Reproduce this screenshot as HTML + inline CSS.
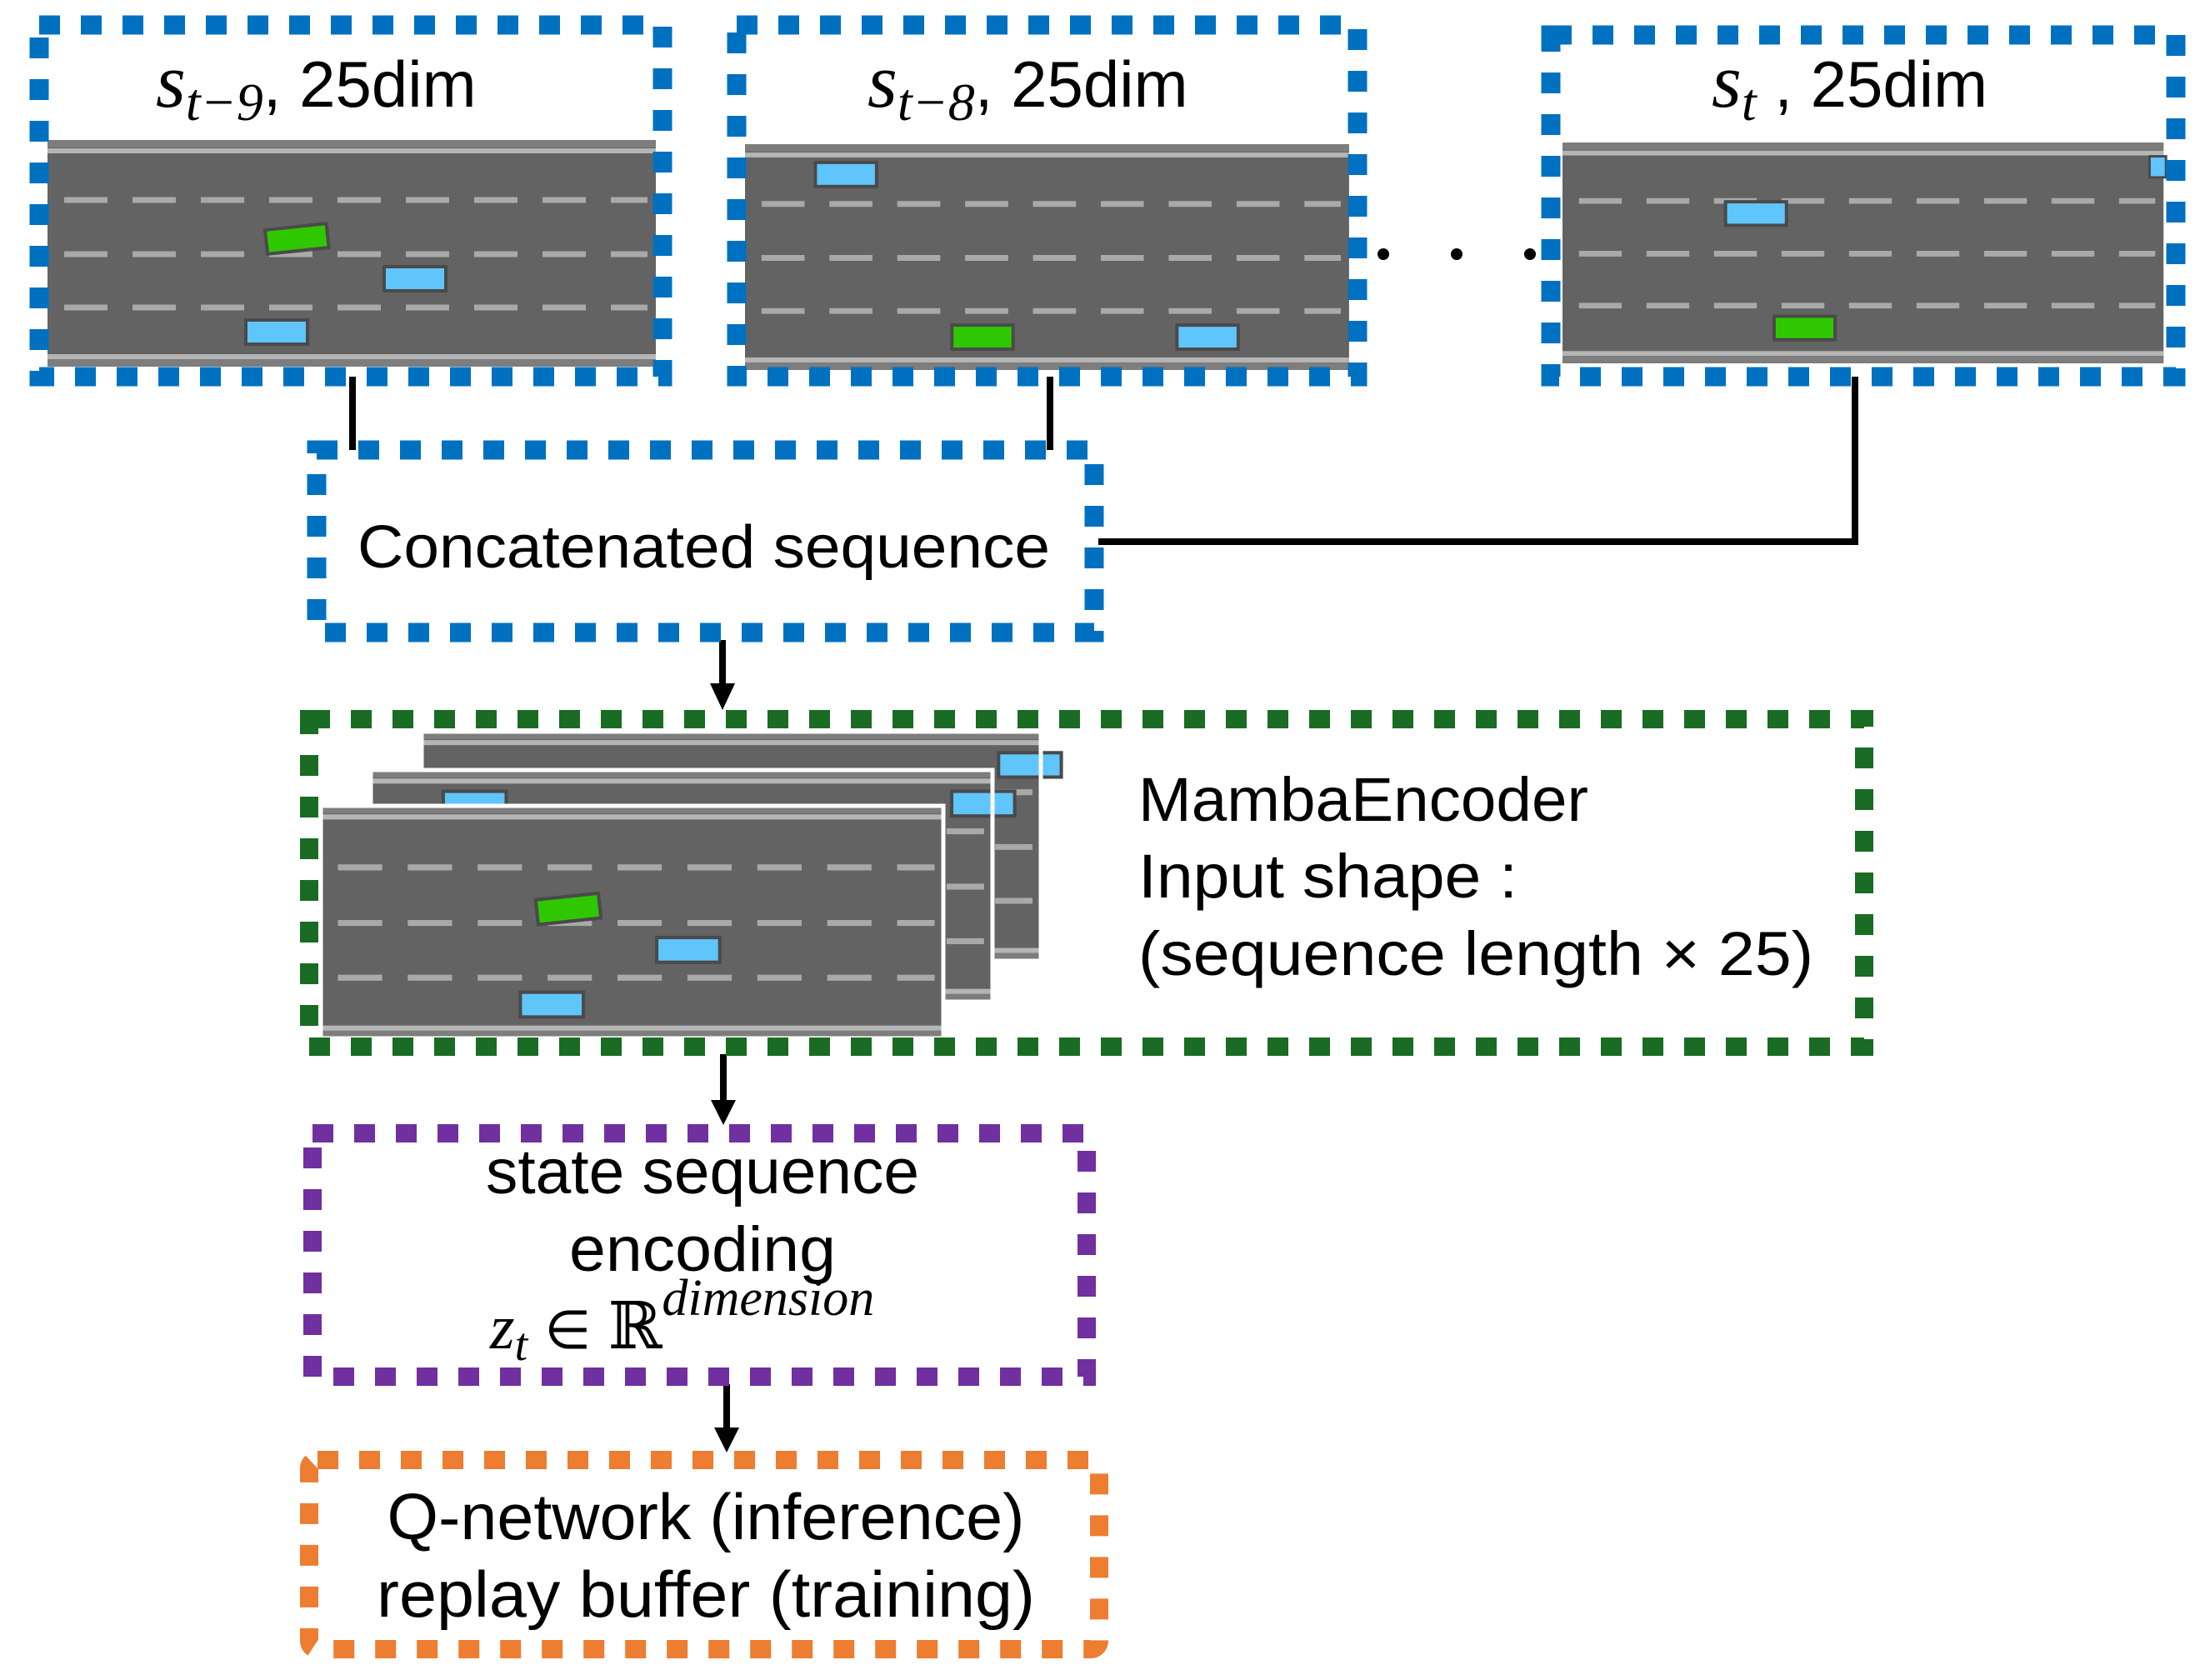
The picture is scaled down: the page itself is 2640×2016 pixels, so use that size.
<!DOCTYPE html>
<html><head><meta charset="utf-8"><style>
html,body{margin:0;padding:0;background:#fff;}
svg{display:block;}
text{font-family:"Liberation Sans",sans-serif;fill:#000;}
.m{font-family:"Liberation Serif",serif;font-style:italic;}
</style></head><body>
<svg width="2640" height="2016" viewBox="0 0 2640 2016" xmlns="http://www.w3.org/2000/svg">
<defs>
<g id="road">
  <rect x="0" y="0" width="730" height="272" fill="#636363"/>
  <rect x="0" y="0" width="730" height="9" fill="#7d7d7d"/>
  <rect x="0" y="10" width="730" height="6" fill="#b5b5b5"/>
  <rect x="0" y="257" width="730" height="6" fill="#b5b5b5"/>
  <rect x="0" y="263" width="730" height="9" fill="#7d7d7d"/>
  <g stroke="#a9a9a9" stroke-width="7" stroke-dasharray="52 30">
    <line x1="20" y1="72" x2="720" y2="72"/>
    <line x1="20" y1="137" x2="720" y2="137"/>
    <line x1="20" y1="201" x2="720" y2="201"/>
  </g>
</g>
<g id="blue"><rect x="0" y="0" width="74" height="29" fill="#5fc5fb" stroke="#4a4a4a" stroke-width="4"/></g>
<g id="green"><rect x="0" y="0" width="74" height="29" fill="#2fc800" stroke="#4a4a4a" stroke-width="4"/></g>
<g id="road1">
  <use href="#road"/>
  <use href="#green" transform="translate(261,108) rotate(-6)"/>
  <use href="#blue" x="404" y="152"/>
  <use href="#blue" x="238" y="216"/>
</g>
</defs>

<g transform="translate(57,168)"><use href="#road1"/></g>
<rect x="47" y="30" width="748" height="422" fill="none" stroke="#0070C0" stroke-width="23" stroke-dasharray="25 25"/>
<text x="187" y="128" font-size="78"><tspan class="m" font-size="92">s</tspan><tspan class="m" font-size="64" dy="16">t−9</tspan><tspan dy="-16">, 25dim</tspan></text>

<g transform="translate(894,173) scale(0.993,0.996)">
  <use href="#road"/>
  <use href="#blue" x="85" y="22"/>
  <use href="#green" x="250" y="218"/>
  <use href="#blue" x="522" y="218"/>
</g>
<rect x="884" y="30" width="745" height="422" fill="none" stroke="#0070C0" stroke-width="23" stroke-dasharray="25 25"/>
<text x="1041" y="128" font-size="78"><tspan class="m" font-size="92">s</tspan><tspan class="m" font-size="64" dy="16">t−8</tspan><tspan dy="-16">, 25dim</tspan></text>

<circle cx="1660" cy="305" r="7" fill="#000"/>
<circle cx="1748" cy="305" r="7" fill="#000"/>
<circle cx="1836" cy="305" r="7" fill="#000"/>

<g transform="translate(1875,171) scale(0.988,0.974)">
  <use href="#road"/>
  <use href="#blue" x="198" y="73"/>
  <use href="#green" x="257" y="214"/>
  <rect x="713" y="17" width="20" height="26" fill="#5fc5fb" stroke="#4a4a4a" stroke-width="3"/>
</g>
<rect x="1861" y="42" width="750" height="410" fill="none" stroke="#0070C0" stroke-width="23" stroke-dasharray="25 25"/>
<text x="2054" y="128" font-size="78"><tspan class="m" font-size="92">s</tspan><tspan class="m" font-size="64" dy="16">t</tspan><tspan dy="-16"> , 25dim</tspan></text>

<g stroke="#000" stroke-width="8" fill="none">
  <line x1="423" y1="452" x2="423" y2="540"/>
  <line x1="1260" y1="452" x2="1260" y2="540"/>
  <polyline points="2226,452 2226,650 1318,650"/>
  <line x1="867" y1="768" x2="867" y2="825"/>
  <line x1="868" y1="1265" x2="868" y2="1325"/>
  <line x1="872" y1="1661" x2="872" y2="1718"/>
</g>
<g fill="#000">
  <polygon points="852,820 882,820 867,852"/>
  <polygon points="853,1320 883,1320 868,1350"/>
  <polygon points="857,1713 887,1713 872,1743"/>
</g>

<rect x="380" y="540" width="933" height="219" fill="none" stroke="#0070C0" stroke-width="23" stroke-dasharray="25 25"/>
<text x="429" y="681" font-size="72" textLength="831" lengthAdjust="spacingAndGlyphs">Concatenated sequence</text>

<g transform="translate(506,878) scale(1.018,1.01)"><use href="#road"/>
  <use href="#blue" x="680" y="25"/></g>
<rect x="506" y="878" width="743" height="275" fill="none" stroke="#fff" stroke-width="5"/>
<g transform="translate(445,924) scale(1.022,1.022)"><use href="#road"/>
  <use href="#blue" x="85" y="25"/><use href="#blue" x="682" y="25"/></g>
<rect x="445" y="924" width="746" height="278" fill="none" stroke="#fff" stroke-width="5"/>
<g transform="translate(385,967) scale(1.023,1.026)">
  <use href="#road"/>
  <use href="#green" transform="translate(252,110) rotate(-6)"/>
  <use href="#blue" x="394" y="154"/>
  <use href="#blue" x="234" y="218"/>
</g>
<rect x="385" y="967" width="747" height="279" fill="none" stroke="#fff" stroke-width="5"/>
<rect x="371" y="863" width="1866" height="393" fill="none" stroke="#1a6b24" stroke-width="22" stroke-dasharray="25 25"/>
<text x="1366" y="985" font-size="74" textLength="540" lengthAdjust="spacingAndGlyphs">MambaEncoder</text>
<text x="1366" y="1077" font-size="74" textLength="455" lengthAdjust="spacingAndGlyphs">Input shape :</text>
<text x="1366" y="1170" font-size="74" textLength="810" lengthAdjust="spacingAndGlyphs">(sequence length × 25)</text>

<rect x="375" y="1360" width="929" height="292" fill="none" stroke="#7030A0" stroke-width="22" stroke-dasharray="25 25"/>
<text x="843" y="1432" font-size="76" text-anchor="middle" textLength="520" lengthAdjust="spacingAndGlyphs">state sequence</text>
<text x="843" y="1525" font-size="76" text-anchor="middle" textLength="320" lengthAdjust="spacingAndGlyphs">encoding</text>
<text x="588" y="1618" font-size="76"><tspan class="m">z</tspan><tspan class="m" font-size="56" dy="14">t</tspan><tspan dy="-14" font-family="DejaVu Sans" font-size="64"> ∈ </tspan><tspan font-family="DejaVu Serif" font-size="78">ℝ</tspan><tspan class="m" font-size="62" dy="-40">dimension</tspan></text>

<rect x="371" y="1752" width="948" height="227" rx="10" fill="none" stroke="#ED7D31" stroke-width="22" stroke-dasharray="25 25"/>
<text x="847" y="1847" font-size="78" text-anchor="middle" textLength="765" lengthAdjust="spacingAndGlyphs">Q-network (inference)</text>
<text x="847" y="1940" font-size="78" text-anchor="middle" textLength="790" lengthAdjust="spacingAndGlyphs">replay buffer (training)</text>
</svg>
</body></html>
